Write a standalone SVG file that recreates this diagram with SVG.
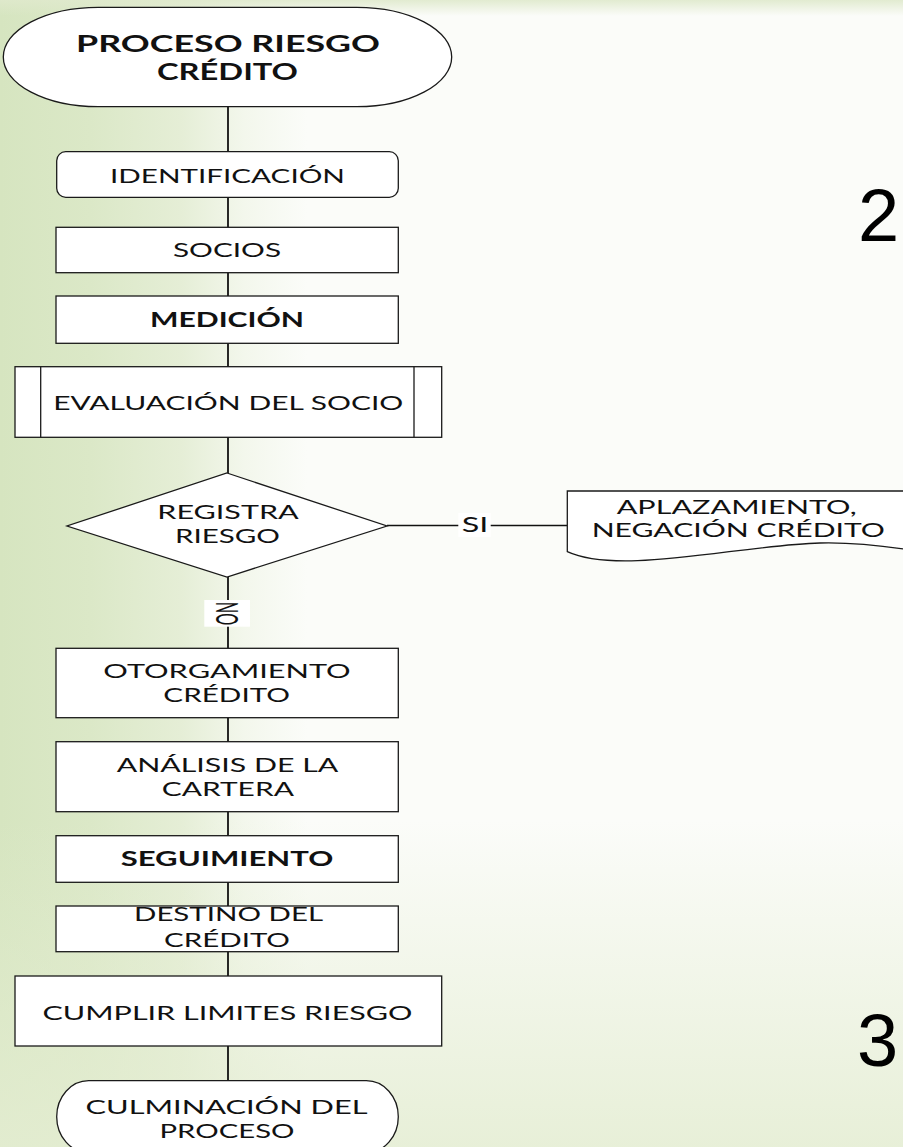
<svg xmlns="http://www.w3.org/2000/svg" width="903" height="1147" viewBox="0 0 903 1147">
<defs>
<linearGradient id="bgL" x1="0" y1="0" x2="903" y2="0" gradientUnits="userSpaceOnUse">
<stop offset="0" stop-color="#d6e5c0"/>
<stop offset="0.1" stop-color="#dbe8c7"/>
<stop offset="0.2" stop-color="#e5eed6"/>
<stop offset="0.27" stop-color="#f3f7ec"/>
<stop offset="0.34" stop-color="#fbfcf9"/>
<stop offset="1" stop-color="#fbfcf9"/>
</linearGradient>
<linearGradient id="bgB" x1="0" y1="820" x2="0" y2="1147" gradientUnits="userSpaceOnUse">
<stop offset="0" stop-color="#e4edd2" stop-opacity="0"/>
<stop offset="1" stop-color="#e4edd2" stop-opacity="0.85"/>
</linearGradient>
<linearGradient id="bgT" x1="0" y1="0" x2="0" y2="16" gradientUnits="userSpaceOnUse">
<stop offset="0" stop-color="#dfe9cc" stop-opacity="0.9"/>
<stop offset="1" stop-color="#dfe9cc" stop-opacity="0"/>
</linearGradient>
<style>
.shape{fill:#ffffff;stroke:#1a1a1a;stroke-width:1.3}
.conn{stroke:#111;stroke-width:1.8;fill:none}
.t{font-family:Lato,"Open Sans","Liberation Sans",sans-serif;font-size:19px;fill:#111;text-anchor:middle}
.b{font-weight:bold;font-size:20px}
.title{font-family:Lato,"Open Sans","Liberation Sans",sans-serif;font-weight:bold;font-size:22.5px;fill:#111;text-anchor:middle}
.num{font-family:"Liberation Sans",Arial,sans-serif;font-size:74px;fill:#000}
</style>
</defs>
<g id="background">
<rect x="0" y="0" width="903" height="1147" fill="url(#bgL)"/>
<rect x="0" y="820" width="903" height="327" fill="url(#bgB)"/>
<rect x="0" y="0" width="903" height="16" fill="url(#bgT)"/>
</g>
<g id="connectors">
<line class="conn" x1="228" y1="106" x2="228" y2="152"/>
<line class="conn" x1="228" y1="197" x2="228" y2="227"/>
<line class="conn" x1="228" y1="273" x2="228" y2="296"/>
<line class="conn" x1="228" y1="343" x2="228" y2="367"/>
<line class="conn" x1="228" y1="437" x2="228" y2="473"/>
<line class="conn" x1="228" y1="577" x2="228" y2="648"/>
<line class="conn" x1="228" y1="718" x2="228" y2="742"/>
<line class="conn" x1="228" y1="812" x2="228" y2="836"/>
<line class="conn" x1="228" y1="882" x2="228" y2="906"/>
<line class="conn" x1="228" y1="952" x2="228" y2="976"/>
<line class="conn" x1="228" y1="1046" x2="228" y2="1081"/>
<line class="conn" x1="387" y1="525.5" x2="567" y2="525.5" style="stroke-width:1.3"/>
<rect x="204.3" y="600" width="45.7" height="26.7" fill="#ffffff"/>
<text class="t" style="text-anchor:start;font-size:31px" transform="translate(216,601.7) rotate(90)" textLength="23.5" lengthAdjust="spacingAndGlyphs">NO</text>
<rect x="458.3" y="513" width="32.4" height="24" fill="#ffffff"/>
<text class="t" x="475" y="532" style="font-size:21px" textLength="26.6" lengthAdjust="spacingAndGlyphs">SI</text>
</g>
<g id="start">
<rect class="shape" x="3.3" y="7.3" width="448.4" height="99.4" rx="95" ry="49.7"/>
<text class="title" x="228" y="52.3" textLength="304" lengthAdjust="spacingAndGlyphs">PROCESO RIESGO</text>
<text class="title" x="227.5" y="80" textLength="141" lengthAdjust="spacingAndGlyphs">CRÉDITO</text>
</g>
<g id="identificacion">
<rect class="shape" x="56.7" y="151.7" width="341.6" height="45.6" rx="9" ry="9"/>
<text class="t" x="227.5" y="182.7" textLength="235" lengthAdjust="spacingAndGlyphs">IDENTIFICACIÓN</text>
</g>
<g id="socios">
<rect class="shape" x="56" y="227.3" width="342.3" height="45.4"/>
<text class="t" x="227" y="257.3" textLength="108" lengthAdjust="spacingAndGlyphs">SOCIOS</text>
</g>
<g id="medicion">
<rect class="shape" x="56" y="296" width="342.3" height="47.3"/>
<text class="t b" x="227" y="327.3" textLength="154" lengthAdjust="spacingAndGlyphs">MEDICIÓN</text>
</g>
<g id="evaluacion">
<rect class="shape" x="15" y="366.7" width="426.7" height="70.6"/>
<line class="shape" x1="40.7" y1="366.7" x2="40.7" y2="437.3"/>
<line class="shape" x1="414" y1="366.7" x2="414" y2="437.3"/>
<text class="t" x="228.3" y="410" textLength="350" lengthAdjust="spacingAndGlyphs">EVALUACIÓN DEL SOCIO</text>
</g>
<g id="registra">
<polygon class="shape" points="227,473 387,526 227,577 67,526"/>
<text class="t" x="228" y="519.3" textLength="141.4" lengthAdjust="spacingAndGlyphs">REGISTRA</text>
<text class="t" x="227.5" y="542.7" textLength="105" lengthAdjust="spacingAndGlyphs">RIESGO</text>
</g>
<g id="aplazamiento">
<path class="shape" d="M567.3,551.7 L567.3,491 L910,491 L910,550 C890,547 860,542 820,543 C740,545 620,576 567.3,551.7 Z"/>
<text class="t" x="736.7" y="514" textLength="240" lengthAdjust="spacingAndGlyphs">APLAZAMIENTO,</text>
<text class="t" x="738.3" y="536.7" textLength="293.3" lengthAdjust="spacingAndGlyphs">NEGACIÓN CRÉDITO</text>
</g>
<g id="otorgamiento">
<rect class="shape" x="56" y="648.3" width="342.3" height="69.4"/>
<text class="t" x="227" y="678.3" textLength="247.4" lengthAdjust="spacingAndGlyphs">OTORGAMIENTO</text>
<text class="t" x="226.7" y="701.7" textLength="126.7" lengthAdjust="spacingAndGlyphs">CRÉDITO</text>
</g>
<g id="analisis">
<rect class="shape" x="56" y="741.7" width="342.3" height="70"/>
<text class="t" x="227.5" y="772.3" textLength="221.6" lengthAdjust="spacingAndGlyphs">ANÁLISIS DE LA</text>
<text class="t" x="227.8" y="795.7" textLength="132.3" lengthAdjust="spacingAndGlyphs">CARTERA</text>
</g>
<g id="seguimiento">
<rect class="shape" x="56" y="835.7" width="342.3" height="46.6"/>
<text class="t b" x="227" y="865.7" textLength="212.6" lengthAdjust="spacingAndGlyphs">SEGUIMIENTO</text>
</g>
<g id="destino">
<rect class="shape" x="56" y="906" width="342.3" height="45.7"/>
<text class="t" x="228.5" y="920.5" textLength="189" lengthAdjust="spacingAndGlyphs">DESTINO DEL</text>
<text class="t" x="227" y="946.7" textLength="126" lengthAdjust="spacingAndGlyphs">CRÉDITO</text>
</g>
<g id="cumplir">
<rect class="shape" x="15" y="976" width="426.7" height="70"/>
<text class="t" x="227.5" y="1020" textLength="370" lengthAdjust="spacingAndGlyphs">CUMPLIR LIMITES RIESGO</text>
</g>
<g id="culminacion">
<rect class="shape" x="56.7" y="1080.7" width="341.6" height="72" rx="32" ry="36"/>
<text class="t" x="226.5" y="1114" textLength="282" lengthAdjust="spacingAndGlyphs">CULMINACIÓN DEL</text>
<text class="t" x="227" y="1138.3" textLength="135" lengthAdjust="spacingAndGlyphs">PROCESO</text>
</g>
<g id="page-numbers">
<text class="num" x="858" y="240.7">2</text>
<text class="num" x="857" y="1066">3</text>
</g>
</svg>
